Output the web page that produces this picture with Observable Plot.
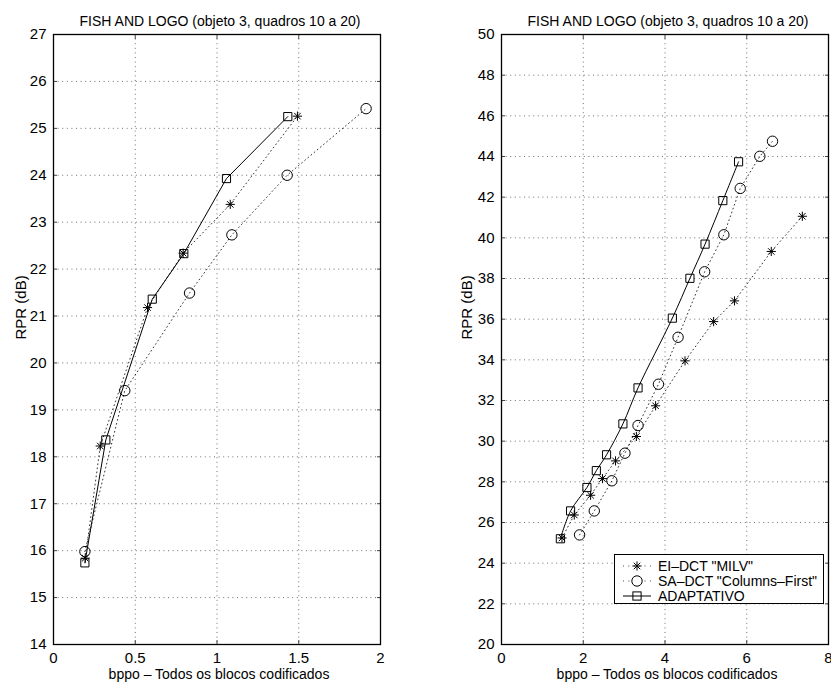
<!DOCTYPE html>
<html><head><meta charset="utf-8">
<script src="https://cdn.jsdelivr.net/npm/d3@7"></script>
<script src="https://cdn.jsdelivr.net/npm/@observablehq/plot@0.6"></script>
<style>
body{margin:0;background:#fff;}
#wrap{position:relative;width:831px;height:686px;overflow:hidden;font-family:"Liberation Sans",Arial,Helvetica,sans-serif;background:#fff;}
.panel{position:absolute;top:0;}
#legend{position:absolute;left:614px;top:554px;width:210px;height:50px;border:1px solid #000;background:#fff;box-sizing:border-box;}
.row{position:absolute;left:0;height:16px;font-size:14px;line-height:16px;white-space:nowrap;}
.row svg{position:absolute;left:0;top:0;}
.row span{position:absolute;left:43px;top:0;}
</style></head><body>
<div id="wrap">
  <div id="left" class="panel" style="left:0"></div>
  <div id="right" class="panel" style="left:415px"></div>
  <div id="legend"></div>
</div>
<script>
// ---------- data ----------
const title = "FISH AND LOGO (objeto 3, quadros 10 a 20)";
const yLabel = "RPR (dB)";
const xLabel = "bppo – Todos os blocos codificados";
const seriesNames = ["EI–DCT \"MILV\"", "SA–DCT \"Columns–First\"", "ADAPTATIVO"];

// left panel
const leftXTicks = [0, 0.5, 1, 1.5, 2];
const leftYTicks = [14, 15, 16, 17, 18, 19, 20, 21, 22, 23, 24, 25, 26, 27];
const leftEiX = [0.194, 0.286, 0.575, 0.793, 1.081, 1.492];
const leftEiY = [15.84, 18.23, 21.18, 22.34, 23.38, 25.26];
const leftSaX = [0.192, 0.436, 0.832, 1.091, 1.429, 1.912];
const leftSaY = [15.98, 19.41, 21.49, 22.73, 24.00, 25.42];
const leftAdX = [0.192, 0.320, 0.604, 0.797, 1.058, 1.433];
const leftAdY = [15.74, 18.36, 21.36, 22.33, 23.93, 25.25];

// right panel
const rightXTicks = [0, 2, 4, 6, 8];
const rightYTicks = [20, 22, 24, 26, 28, 30, 32, 34, 36, 38, 40, 42, 44, 46, 48, 50];
const rightEiX = [1.48, 1.78, 2.18, 2.47, 2.79, 3.30, 3.77, 4.49, 5.19, 5.70, 6.60, 7.36];
const rightEiY = [25.24, 26.37, 27.34, 28.16, 29.03, 30.23, 31.74, 33.95, 35.88, 36.90, 39.33, 41.06];
const rightSaX = [1.91, 2.27, 2.70, 3.02, 3.34, 3.84, 4.32, 4.97, 5.44, 5.84, 6.32, 6.63];
const rightSaY = [25.39, 26.57, 28.05, 29.41, 30.77, 32.80, 35.11, 38.33, 40.15, 42.43, 44.01, 44.75];
const rightAdX = [1.44, 1.69, 2.09, 2.32, 2.57, 2.97, 3.34, 4.18, 4.61, 4.98, 5.415, 5.80];
const rightAdY = [25.20, 26.57, 27.72, 28.55, 29.33, 30.85, 32.62, 36.05, 38.01, 39.69, 41.83, 43.74];

// ---------- helpers ----------
const FONT = '"Liberation Sans", Arial, Helvetica, sans-serif';
const fmt = d3.format("~g");
const asterisk8 = {
  draw(ctx, size) {
    const r = Math.sqrt(size / Math.PI);
    const d = r * Math.SQRT1_2;
    ctx.moveTo(-r, 0); ctx.lineTo(r, 0);
    ctx.moveTo(0, -r); ctx.lineTo(0, r);
    ctx.moveTo(-d, -d); ctx.lineTo(d, d);
    ctx.moveTo(-d, d); ctx.lineTo(d, -d);
  }
};
const zip = (xs, ys) => xs.map((x, i) => ({x, y: ys[i]}));

function panel({width, marginLeft, marginRight, xTicks, yTicks, ei, sa, ad, curve, yLabelDx}) {
  const xDomain = [xTicks[0], xTicks[xTicks.length - 1]];
  const yDomain = [yTicks[0], yTicks[yTicks.length - 1]];
  const gridStyle = {stroke: "#444", strokeOpacity: 0.85, strokeDasharray: "1,3.6", strokeWidth: 0.9};
  const inner = xTicks.slice(1, -1), innerY = yTicks.slice(1, -1);
  const dotted = {stroke: "#000", strokeWidth: 0.8, strokeDasharray: "0.9,3.2"};
  return Plot.plot({
    width, height: 686, marginLeft, marginRight, marginTop: 34, marginBottom: 42,
    style: {fontFamily: FONT, fontSize: "15px", color: "#000", background: "transparent", overflow: "visible"},
    x: {domain: xDomain, label: null},
    y: {domain: yDomain, label: null},
    marks: [
      Plot.gridX(inner, gridStyle),
      Plot.gridY(innerY, gridStyle),
      Plot.axisX(xTicks, {anchor: "bottom", tickSize: -4, tickPadding: 12, tickFormat: fmt, label: null, stroke: "#444", fontSize: 15}),
      Plot.axisX(xTicks, {anchor: "top", tickSize: -4, tickFormat: () => "", label: null, stroke: "#444"}),
      Plot.axisY(yTicks, {anchor: "left", tickSize: -4, tickPadding: 11, tickFormat: fmt, label: null, stroke: "#444", fontSize: 15}),
      Plot.axisY(yTicks, {anchor: "right", tickSize: -4, tickFormat: () => "", label: null, stroke: "#444"}),
      Plot.line(ei, {x: "x", y: "y", ...dotted}),
      Plot.line(sa, {x: "x", y: "y", ...dotted}),
      Plot.line(ad, {x: "x", y: "y", stroke: "#000", strokeWidth: 1, curve}),
      Plot.dot(ei, {x: "x", y: "y", symbol: asterisk8, r: 4.6, stroke: "#000", strokeWidth: 1, fill: "none"}),
      Plot.dot(sa, {x: "x", y: "y", symbol: "circle", r: 5.2, stroke: "#000", strokeWidth: 1, fill: "none"}),
      Plot.dot(ad, {x: "x", y: "y", symbol: "square", r: 4.6, stroke: "#000", strokeWidth: 1, fill: "none"}),
      Plot.frame({stroke: "#000", strokeWidth: 1.3}),
      Plot.text([title], {frameAnchor: "top", dy: -18, dx: 3, fontSize: 14, fill: "#000"}),
      Plot.text([yLabel], {frameAnchor: "left", dx: yLabelDx, rotate: -90, fontSize: 15, fill: "#000"}),
      Plot.text([xLabel], {frameAnchor: "bottom", dy: 34, dx: 2, fontSize: 14, fill: "#000"})
    ]
  });
}

document.getElementById("left").append(panel({
  width: 415, marginLeft: 53, marginRight: 35,
  xTicks: leftXTicks, yTicks: leftYTicks,
  ei: zip(leftEiX, leftEiY), sa: zip(leftSaX, leftSaY), ad: zip(leftAdX, leftAdY),
  curve: "linear", yLabelDx: -32
}));
document.getElementById("right").append(panel({
  width: 416, marginLeft: 86, marginRight: 3,
  xTicks: rightXTicks, yTicks: rightYTicks,
  ei: zip(rightEiX, rightEiY), sa: zip(rightSaX, rightSaY), ad: zip(rightAdX, rightAdY),
  curve: "catmull-rom", yLabelDx: -34
}));

// ---------- legend ----------
const legend = d3.select("#legend");
const tops = [3, 18, 33];
const kinds = ["ei", "sa", "ad"];
kinds.forEach((k, i) => {
  const row = legend.append("div").attr("class", "row").style("top", tops[i] + "px").style("width", "208px");
  const svg = row.append("svg").attr("width", 40).attr("height", 16);
  const cy = 8, cx = 22;
  svg.append("line").attr("x1", 8).attr("x2", 36).attr("y1", cy).attr("y2", cy)
    .attr("stroke", "#000").attr("stroke-width", k === "ad" ? 1 : 0.8)
    .attr("stroke-dasharray", k === "ad" ? null : "0.9,4.5");
  if (k === "ei") {
    const p = d3.path(); asterisk8.draw(p, Math.PI * 4.6 * 4.6);
    svg.append("path").attr("d", p.toString()).attr("transform", `translate(${cx},${cy})`)
      .attr("stroke", "#000").attr("fill", "none");
  } else if (k === "sa") {
    svg.append("rect").attr("x", cx - 7).attr("y", cy - 6).attr("width", 14).attr("height", 12).attr("fill", "#fff");
    svg.append("circle").attr("cx", cx).attr("cy", cy).attr("r", 5.2).attr("stroke", "#000").attr("fill", "none");
  } else {
    svg.append("rect").attr("x", cx - 4.1).attr("y", cy - 4.1).attr("width", 8.2).attr("height", 8.2)
      .attr("stroke", "#000").attr("fill", "none");
  }
  row.append("span").text(seriesNames[i]);
});
</script>
</body></html>
